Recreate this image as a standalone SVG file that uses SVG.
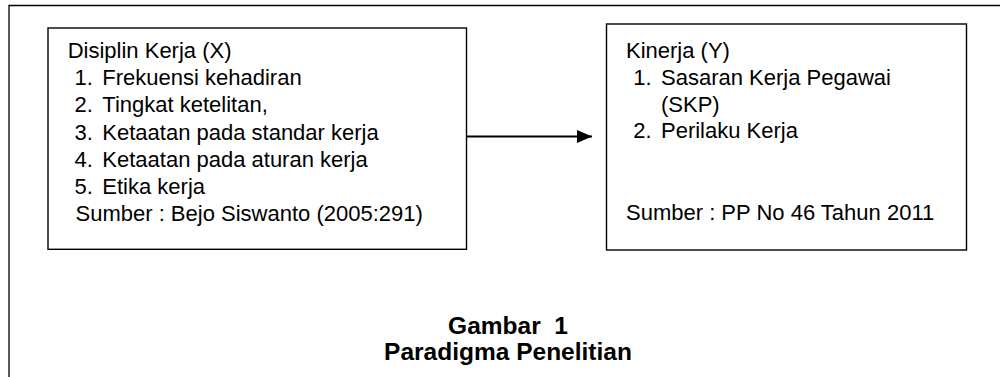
<svg xmlns="http://www.w3.org/2000/svg" width="1000" height="377" viewBox="0 0 1000 377">
  <style>
    .frame { fill: none; stroke: #000; stroke-width: 1.3; }
    .box { fill: #fff; stroke: #000; stroke-width: 1.4; }
    .t { font-family: "Liberation Sans", Arial, sans-serif; font-size: 22px; fill: #000; }
    .cap { font-family: "Liberation Sans", Arial, sans-serif; font-size: 24.5px; font-weight: bold; fill: #000; text-anchor: middle; white-space: pre; }
    .conn { stroke: #000; stroke-width: 2; fill: none; }
  </style>
  <defs>
    <marker id="arrow" markerUnits="userSpaceOnUse" markerWidth="16" markerHeight="14" refX="15" refY="7" orient="auto">
      <polygon points="0,0.5 15,7 0,13.5" fill="#000"/>
    </marker>
  </defs>
  <rect width="1000" height="377" fill="#fff"/>
  <g id="frame">
    <path class="frame" d="M9,377 V5.5 H1000"/>
  </g>
  <g id="node-x">
    <rect class="box" x="48" y="28" width="418.5" height="221.3"/>
    <text class="t" x="67.7" y="58">Disiplin Kerja (X)</text>
    <text class="t" x="74.5" y="85.2">1.</text>
    <text class="t" x="102.3" y="85.2">Frekuensi kehadiran</text>
    <text class="t" x="74.5" y="112.4">2.</text>
    <text class="t" x="102.3" y="112.4">Tingkat ketelitan,</text>
    <text class="t" x="74.5" y="139.6">3.</text>
    <text class="t" x="102.3" y="139.6">Ketaatan pada standar kerja</text>
    <text class="t" x="74.5" y="166.8">4.</text>
    <text class="t" x="102.3" y="166.8">Ketaatan pada aturan kerja</text>
    <text class="t" x="74.5" y="194">5.</text>
    <text class="t" x="102.3" y="194">Etika kerja</text>
    <text class="t" x="75.5" y="220.5">Sumber : Bejo Siswanto (2005:291)</text>
  </g>
  <g id="node-y">
    <rect class="box" x="606.5" y="24" width="360" height="226"/>
    <text class="t" x="626" y="58">Kinerja (Y)</text>
    <text class="t" x="633.3" y="85.2">1.</text>
    <text class="t" x="661" y="85.2">Sasaran Kerja Pegawai</text>
    <text class="t" x="661" y="112.4">(SKP)</text>
    <text class="t" x="633.3" y="137.8">2.</text>
    <text class="t" x="661" y="137.8">Perilaku Kerja</text>
    <text class="t" x="626" y="220">Sumber : PP No 46 Tahun 2011</text>
  </g>
  <g id="connectors">
    <line class="conn" x1="466.5" y1="136.5" x2="592" y2="136.5" marker-end="url(#arrow)"/>
  </g>
  <g id="caption">
    <text class="cap" x="508" y="333.5" xml:space="preserve">Gambar  1</text>
    <text class="cap" x="508" y="359.5">Paradigma Penelitian</text>
  </g>
</svg>
